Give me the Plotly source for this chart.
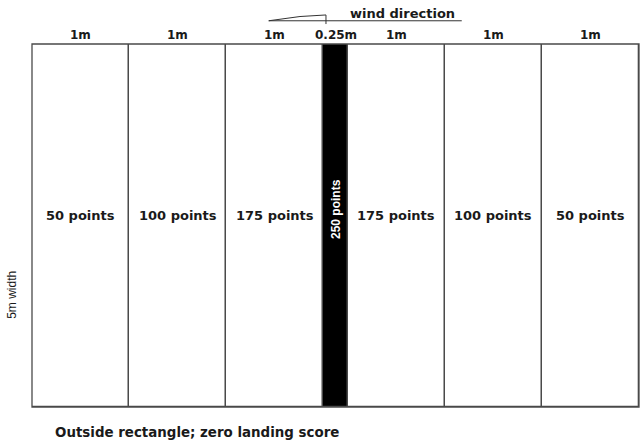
import plotly.graph_objects as go

# Data
zone_widths_m = [1, 1, 1, 0.25, 1, 1, 1]
zone_width_labels = ["1m", "1m", "1m", "0.25m", "1m", "1m", "1m"]
zone_points = [50, 100, 175, 250, 175, 100, 50]
zone_point_labels = ["50 points", "100 points", "175 points", "250 points",
                     "175 points", "100 points", "50 points"]
field_depth_m = 5

# derived positions
centers = []
acc = 0.0
for w in zone_widths_m:
    centers.append(acc + w / 2)
    acc += w
total_w = acc

fill_colors = ["#000000" if p == max(zone_points) else "#ffffff" for p in zone_points]
LINE_C = "#4a4a4a"

fig = go.Figure()
fig.add_trace(go.Bar(
    x=centers, y=[field_depth_m] * len(centers), width=zone_widths_m, base=0,
    marker=dict(color=fill_colors, line=dict(color=LINE_C, width=1.3)),
    hoverinfo="skip", showlegend=False, cliponaxis=False,
))

HFONT = "DejaVu Sans"
annotations = []
for c, wl, pl, p in zip(centers, zone_width_labels, zone_point_labels, zone_points):
    annotations.append(dict(x=c, y=field_depth_m, xref="x", yref="y", text=wl,
                            showarrow=False, xanchor="center", yanchor="bottom", yshift=0,
                            font=dict(family=HFONT, size=12, color="#1a1a1a", weight="bold")))
    if p == max(zone_points):
        annotations.append(dict(x=c, y=2.72, xref="x", yref="y", text=pl,
                                showarrow=False, textangle=-90, xanchor="center", yanchor="middle",
                                font=dict(family="Liberation Sans", size=12, color="#ffffff", weight="bold")))
    else:
        annotations.append(dict(x=c, y=2.64, xref="x", yref="y", text=pl,
                                showarrow=False, xanchor="center", yanchor="middle",
                                font=dict(family=HFONT, size=13, color="#1a1a1a", weight="bold")))

annotations.append(dict(x=0.611, y=1.085, xref="paper", yref="paper", text="wind direction",
                        showarrow=False, xanchor="center", yanchor="middle",
                        font=dict(family=HFONT, size=13, color="#1a1a1a", weight="bold")))
annotations.append(dict(x=-0.033, y=0.309, xref="paper", yref="paper", text="5m width",
                        showarrow=False, textangle=-90, xanchor="center", yanchor="middle",
                        font=dict(family="Liberation Sans", size=12, color="#1a1a1a")))
annotations.append(dict(x=0.272, y=-0.069, xref="paper", yref="paper",
                        text="Outside rectangle; zero landing score",
                        showarrow=False, xanchor="center", yanchor="middle",
                        font=dict(family=HFONT, size=13.4, color="#1a1a1a", weight="bold")))

shapes = [
    # outer frame of the landing rectangle
    dict(type="rect", xref="paper", yref="paper", x0=0, x1=1, y0=0, y1=1,
         line=dict(color=LINE_C, width=1.3), fillcolor="rgba(0,0,0,0)", layer="above"),
    # wind direction indicator
    dict(type="line", xref="paper", yref="paper", x0=0.390, x1=0.708, y0=1.064, y1=1.064,
         line=dict(color="#333333", width=1)),
    dict(type="path", xref="paper", yref="paper",
         path="M 0.390 1.064 L 0.4415 1.0757 L 0.4843 1.080 L 0.4843 1.055",
         line=dict(color="#333333", width=1)),
]

fig.update_layout(
    width=644, height=441,
    margin=dict(l=32, r=5, t=44, b=34),
    paper_bgcolor="white", plot_bgcolor="white",
    xaxis=dict(range=[0, total_w], visible=False, fixedrange=True),
    yaxis=dict(range=[0, field_depth_m], visible=False, fixedrange=True),
    bargap=0,
    annotations=annotations,
    shapes=shapes,
)

fig.write_html("out.html", config={"displayModeBar": False},
               post_script="document.body.style.margin='0';document.body.style.overflow='hidden';")
